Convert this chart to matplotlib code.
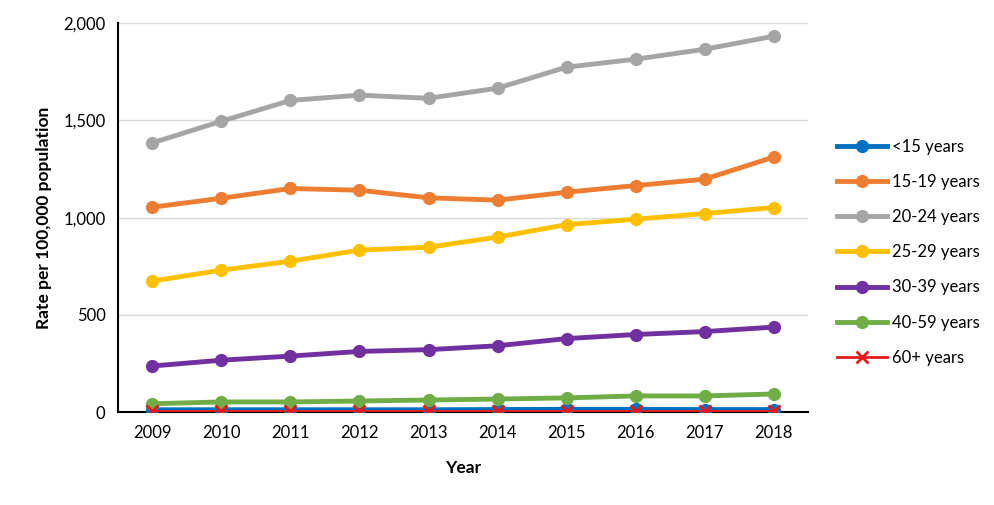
import matplotlib.pyplot as plt
import numpy as np

plt.rcParams['font.family'] = ['Lato', 'DejaVu Sans']

years = [2009, 2010, 2011, 2012, 2013, 2014, 2015, 2016, 2017, 2018]
labels = ['<15 years', '15-19 years', '20-24 years', '25-29 years',
          '30-39 years', '40-59 years', '60+ years']
under15 = [12, 12, 12, 12, 12, 13, 14, 14, 13, 13]
age15_19 = [1054, 1100, 1150, 1141, 1102, 1090, 1131, 1165, 1198, 1311]
age20_24 = [1385, 1496, 1603, 1630, 1614, 1666, 1774, 1815, 1866, 1933]
age25_29 = [674, 730, 776, 833, 848, 900, 964, 992, 1021, 1052]
age30_39 = [237, 267, 288, 312, 321, 341, 378, 399, 414, 437]
age40_59 = [43, 52, 52, 57, 62, 67, 73, 83, 83, 93]
age60 = [3, 3, 3, 3, 3, 3, 3, 3, 3, 3]

series = [under15, age15_19, age20_24, age25_29, age30_39, age40_59, age60]
colors = ['#0070C0', '#ED7D31', '#A5A5A5', '#FFC000', '#7030A0', '#70AD47', '#E31A1C']

fig = plt.figure(figsize=(9.94, 5.05), dpi=100)
ax = fig.add_axes([0.1187, 0.184, 0.6942, 0.770])

for vals, lab, c in zip(series, labels, colors):
    if lab == '60+ years':
        ax.plot(years, vals, color=c, lw=2, marker='x', ms=8, mew=2, label=lab, zorder=4)
    else:
        ax.plot(years, vals, color=c, lw=3.5, marker='o', ms=8.5, label=lab, zorder=3)

ax.set_xlim(2008.5, 2018.5)
ax.set_ylim(0, 2000)
ax.set_xticks(years)
ax.set_yticks(np.arange(0, 2001, 500))
ax.set_yticklabels(['0', '500', '1,000', '1,500', '2,000'])
ax.yaxis.grid(True, color='#D9D9D9', lw=1)
ax.set_axisbelow(True)
for s in ['top', 'right']:
    ax.spines[s].set_visible(False)
ax.spines['left'].set_linewidth(1.5)
ax.spines['bottom'].set_linewidth(1.5)
ax.tick_params(axis='both', length=0, labelsize=12, pad=9)
ax.set_ylabel('Rate per 100,000 population', fontsize=12.5, fontweight='bold', labelpad=8)
ax.set_xlabel('Year', fontsize=12.5, fontweight='bold', labelpad=14)

ax.legend(loc='center left', bbox_to_anchor=(1.02, 0.411), frameon=False,
          fontsize=12, labelspacing=1.15, handlelength=3, handletextpad=0.3)

fig.savefig('out.png', dpi=100)
